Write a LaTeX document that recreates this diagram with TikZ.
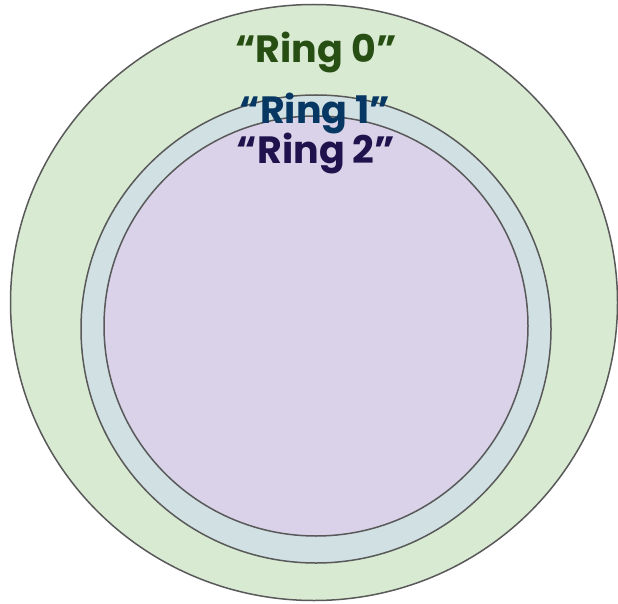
\documentclass[tikz,border=0pt]{standalone}
\usepackage{fontspec}
\setmainfont{Poppins}
\definecolor{ringline}{HTML}{595959}
\definecolor{fillzero}{HTML}{D9EAD3}
\definecolor{fillone}{HTML}{D0E0E3}
\definecolor{filltwo}{HTML}{D9D2E9}
\definecolor{textzero}{HTML}{274E13}
\definecolor{textone}{HTML}{073763}
\definecolor{texttwo}{HTML}{20124D}
\begin{document}
\begin{tikzpicture}[x=1pt, y=-1pt, line width=1.5pt,
  ring/.style={draw=ringline},
  ringlabel/.style={font=\fontsize{38}{38}\selectfont\bfseries, inner sep=0pt}]
	\useasboundingbox (0,0) rectangle (618,604);
	
	% Ringe von aussen nach innen
	\filldraw[ring, fill=fillzero] (314,302.5) ellipse [x radius=303.5, y radius=298];
	\filldraw[ring, fill=fillone] (316,329) ellipse [x radius=235, y radius=234];
	\filldraw[ring, fill=filltwo] (316,326) ellipse [x radius=212, y radius=210];
	
	% Beschriftungen
	\node[ringlabel, text=textzero] (ring0) at (316,53) {“Ring 0”};
	\node[ringlabel, text=textone] (ring1) at (315,114) {“Ring 1”};
	\node[ringlabel, text=texttwo] (ring2) at (316,154) {“Ring 2”};
\end{tikzpicture}
\end{document}
